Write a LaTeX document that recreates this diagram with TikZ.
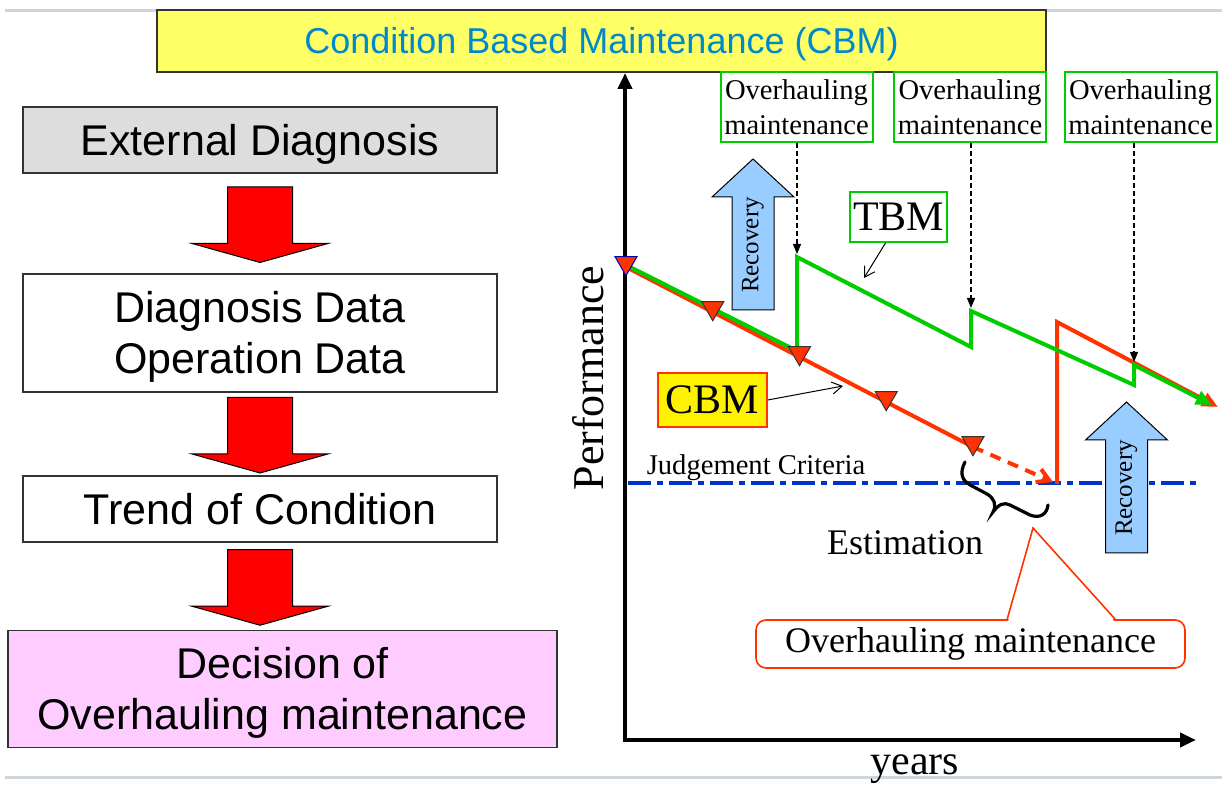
\documentclass[tikz,border=0pt]{standalone}
\usepackage{fontspec}
\setmainfont{Liberation Serif}
\setsansfont{Liberation Sans}
\usepackage{xcolor}
\usetikzlibrary{calc,arrows.meta,shapes.geometric}

\definecolor{titleblue}{RGB}{0,136,204}
\definecolor{titleyellow}{RGB}{255,255,102}
\definecolor{boxgrey}{RGB}{221,221,221}
\definecolor{boxpink}{RGB}{255,204,255}
\definecolor{recblue}{RGB}{153,204,255}
\definecolor{tbmgreen}{RGB}{0,204,0}
\definecolor{cbmred}{RGB}{255,51,0}
\definecolor{judgeblue}{RGB}{0,51,204}
\definecolor{rulegrey}{RGB}{204,214,220}

\begin{document}
\begin{tikzpicture}[x=0.5pt,y=-0.5pt,
  flowbox/.style={draw=black!80,line width=0.8pt,font=\sffamily\fontsize{21.5}{25.5}\selectfont,align=center,minimum width=237pt,inner sep=0pt,text height=15.4pt,text depth=0pt},
  twoline/.style={text height=40.9pt},
  ovbox/.style={draw=tbmgreen,line width=1pt,fill=white,font=\fontsize{14.3}{17.5}\selectfont,align=center,minimum width=76pt,minimum height=35pt,inner sep=0pt},
  redblock/.style={fill=red,draw=black,line width=0.5pt},
  recblock/.style={fill=recblue,draw=black,line width=0.5pt},
  axis/.style={line width=2pt,line join=miter,{Triangle[length=8pt,width=7pt]}-{Triangle[length=8pt,width=7pt]}},
  tbm/.style={tbmgreen,line width=2pt,line join=miter},
  cbm/.style={cbmred,line width=2pt,line join=miter},
  tri/.style={regular polygon,regular polygon sides=3,shape border rotate=180,fill=cbmred,draw=black!80,line width=0.5pt,minimum size=12.7pt,inner sep=0pt,yshift=2pt},
  dasharrow/.style={dash pattern=on 2.5pt off 1.5pt,line width=0.6pt,-{Triangle[length=5pt,width=4pt]}},
  pointer/.style={line width=0.5pt,-{Straight Barb[length=5pt,width=6pt]}}]
\useasboundingbox (0,0) rectangle (1222,785);
\draw[rulegrey,line width=1.5pt] (5,11) -- (1222,11);
\draw[rulegrey,line width=1.5pt] (5,778) -- (1222,778);

\node[draw=black!80,line width=1pt,fill=titleyellow,minimum width=444.5pt,minimum height=31pt,inner sep=0pt,font=\sffamily\fontsize{18}{22}\selectfont,text=titleblue,text height=12.9pt,text depth=0pt] (title) at (601.5,41) {Condition Based Maintenance (CBM)};

% left column
\node[flowbox,fill=boxgrey,minimum height=33pt] (ext) at (260,140) {External Diagnosis};
\node[flowbox,twoline,minimum height=59pt] (data) at (260,333) {Diagnosis Data\\Operation Data};
\node[flowbox,minimum height=33pt] (trend) at (260,509) {Trend of Condition};
\node[flowbox,twoline,fill=boxpink,minimum width=274.5pt,minimum height=58.5pt] (dec) at (282.5,689) {Decision of\\Overhauling maintenance};
\foreach \a/\b in {ext/data,data/trend,trend/dec}{
  \coordinate (m) at ($(\a.south)!0.5!(\a.south|-\b.north)$);
  \draw[redblock] ($(m)+(-32.5,-36.5)$) -- ($(m)+(32.5,-36.5)$) -- ($(m)+(32.5,20)$) -- ($(m)+(68,20)$) -- ($(m)+(0,39)$) -- ($(m)+(-68,20)$) -- ($(m)+(-32.5,20)$) -- cycle;
}

% chart
\coordinate (origin) at (625,740);
\draw[axis] (625,73) -- (origin) -- (1196,740);
\node[rotate=90,anchor=base,font=\fontsize{22}{26}\selectfont] (perf) at (603,378) {Performance};
\node[anchor=base,font=\fontsize{21}{25}\selectfont] (years) at (915,775) {years};

\draw[judgeblue,line width=2pt,dash pattern=on 11.5pt off 3pt on 3pt off 3pt] (628,483) -- (1198,483);
\node[anchor=base,font=\fontsize{14.3}{17}\selectfont] (jc) at (756,475) {Judgement Criteria};

\foreach \cx/\ty in {753/159,1126.5/402}{
  \draw[recblock] (\cx-21,\ty+151) -- (\cx-21,\ty+38) -- (\cx-41,\ty+38) -- (\cx,\ty) -- (\cx+41,\ty+38) -- (\cx+21,\ty+38) -- (\cx+21,\ty+151) -- cycle;
  \node[rotate=90,font=\fontsize{12.5}{15}\selectfont] at (\cx,\ty+86) {Recovery};
}

\coordinate (s) at (626,267);
\coordinate (c4) at (973,447);
\coordinate (g1) at (797,257);
\coordinate (g2) at (971,311);
\coordinate (g3) at (1134,365);
\draw[cbm] (s) -- (c4);
\draw[cbm,dash pattern=on 5.5pt off 4pt,-{Straight Barb[length=6pt,width=7pt]}] (c4) -- (1053,482);
\draw[cbm,-{Triangle[length=8pt,width=7pt]}] (1057,484) -- (1057,322) -- (1218,407);
\draw[tbm,-{Triangle[length=8pt,width=7pt]}] (626,265) -- (797,351) -- (g1) -- (971,347) -- (g2) -- (1134,385) -- (g3) -- (1212,405);
\node[tri,draw=blue!70!black] at (s) {};
\foreach \t in {0.25,0.5,0.75,1}
  \node[tri] at ($(s)!\t!(c4)$) {};

\node[ovbox] (ov1) at (796.5,107) {Overhauling\\maintenance};
\node[ovbox] (ov2) at (970,107) {Overhauling\\maintenance};
\node[ovbox] (ov3) at (1140.5,107) {Overhauling\\maintenance};
\draw[dasharrow] (ov1.south -| g1) -- ($(g1)+(0,-3)$);
\draw[dasharrow] (ov2.south -| g2) -- ($(g2)+(0,-3)$);
\draw[dasharrow] (ov3.south -| g3) -- ($(g3)+(0,-3)$);

\node[draw=tbmgreen,line width=1pt,font=\fontsize{21}{25}\selectfont,inner sep=1.5pt,minimum height=25pt] (tbmlbl) at (898.5,217) {TBM};
\coordinate (tbmpt) at (864,278);
\draw[pointer] ($(tbmlbl.south)+(-13,0)$) -- (tbmpt);
\node[draw=cbmred,fill=yellow,line width=0.8pt,font=\fontsize{21}{25}\selectfont,minimum width=54.5pt,minimum height=27pt,inner sep=0pt] (cbmlbl) at (712.5,400) {CBM};
\coordinate (cbmpt) at (843,386);
\draw[pointer] (cbmlbl.east) -- (cbmpt);

% brace under the estimation span
\draw[line width=1.6pt,line cap=round] (965,462) .. controls (959,474) and (962,481) .. (972,486) -- (987,494) .. controls (994,498) and (997,505) .. (993,512) .. controls (999,504) and (1004,502) .. (1010,505) -- (1030,515) .. controls (1040,519) and (1047,514) .. (1048,505);
\node[font=\fontsize{18}{22}\selectfont] (est) at (905,543) {Estimation};

\node[draw=cbmred,line width=0.8pt,rounded corners=5pt,fill=white,minimum width=214.5pt,minimum height=24pt,font=\fontsize{18}{22}\selectfont,inner sep=0pt] (call) at (970.5,644) {Overhauling maintenance};
\coordinate (calltip) at (1033,528);
\fill[white] ($(call.north west)+(253,2)$) -- (calltip) -- ($(call.north west)+(359,2)$) -- cycle;
\draw[cbmred,line width=0.8pt] ($(call.north west)+(252,0)$) -- (calltip) -- ($(call.north west)+(360,0)$);
\end{tikzpicture}
\end{document}
